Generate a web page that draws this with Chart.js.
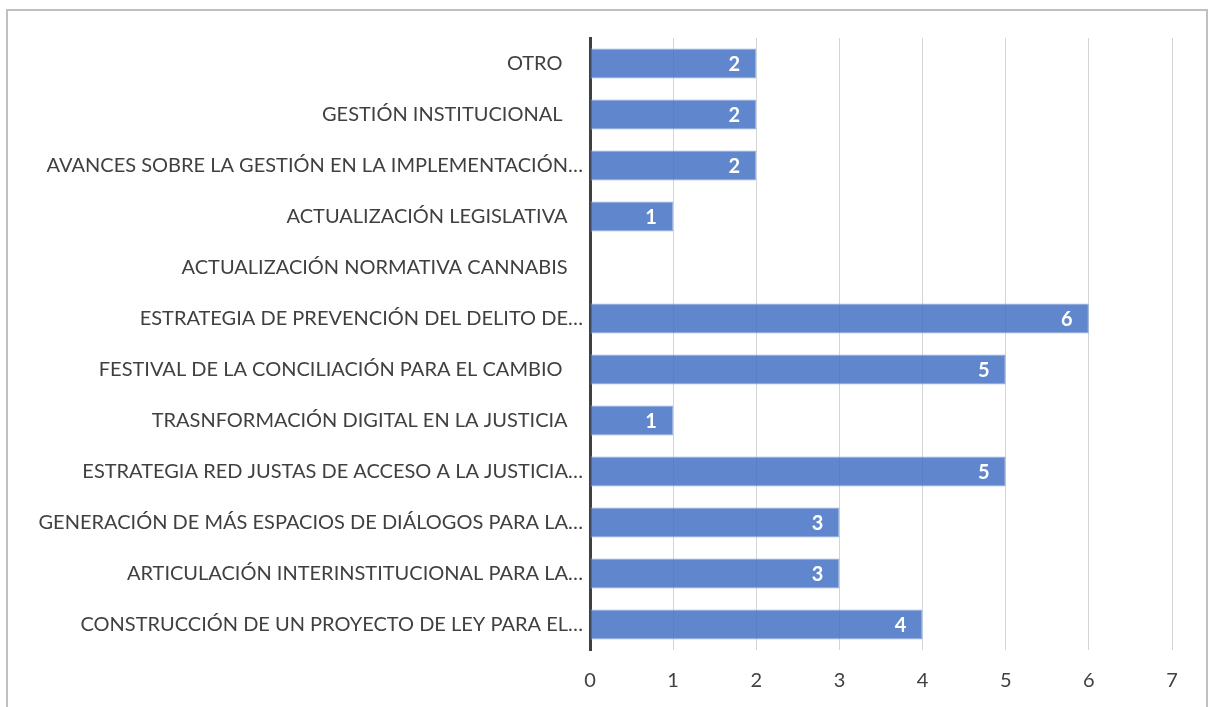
<!DOCTYPE html>
<html>
<head>
<meta charset="utf-8">
<script src="https://cdn.jsdelivr.net/npm/chart.js@4"></script>
<style>
  html, body { margin: 0; padding: 0; background: #fff; overflow: hidden; }
  #frame {
    position: absolute; left: 6px; top: 9px; width: 1198px; height: 720px;
    border: 2px solid #c0c0c0; border-bottom: none;
  }
  #wrap { position: absolute; left: 0; top: 0; width: 1209px; height: 707px; }
</style>
</head>
<body>
<div id="frame"></div>
<div id="wrap"><canvas id="chart" width="1209" height="707"></canvas></div>
<script>
const categories = [
  "OTRO    ",
  "GESTIÓN INSTITUCIONAL    ",
  "AVANCES SOBRE LA GESTIÓN EN LA IMPLEMENTACIÓN…",
  "ACTUALIZACIÓN LEGISLATIVA   ",
  "ACTUALIZACIÓN NORMATIVA CANNABIS   ",
  "ESTRATEGIA DE PREVENCIÓN DEL DELITO DE…",
  "FESTIVAL DE LA CONCILIACIÓN PARA EL CAMBIO    ",
  "TRASNFORMACIÓN DIGITAL EN LA JUSTICIA   ",
  "ESTRATEGIA RED JUSTAS DE ACCESO A LA JUSTICIA…",
  "GENERACIÓN DE MÁS ESPACIOS DE DIÁLOGOS PARA LA…",
  "ARTICULACIÓN INTERINSTITUCIONAL PARA LA…",
  "CONSTRUCCIÓN DE UN PROYECTO DE LEY PARA EL…"
];
const values = [2, 2, 2, 1, null, 6, 5, 1, 5, 3, 3, 4];
const xTicks = [0, 1, 2, 3, 4, 5, 6, 7];

// white numbers near the end of each bar
const barLabels = {
  id: "barLabels",
  afterDatasetsDraw(chart) {
    const ctx = chart.ctx;
    const meta = chart.getDatasetMeta(0);
    ctx.save();
    ctx.fillStyle = "#ffffff";
    ctx.font = "bold 20px Lato";
    ctx.textAlign = "center";
    ctx.textBaseline = "middle";
    meta.data.forEach((bar, i) => {
      if (values[i] == null) return;
      ctx.fillText(String(values[i]), bar.x - 22, bar.y + 1);
    });
    ctx.restore();
  }
};

const data = {
  labels: categories,
  datasets: [
    {
      data: values,
      backgroundColor: "rgba(68, 114, 196, 0.85)",
      borderColor: "rgba(150, 175, 222, 1)",
      borderWidth: 1,
      barPercentage: 0.59,
      categoryPercentage: 1
    }
  ]
};

const config = {
  type: "bar",
  data: data,
  options: {
    indexAxis: "y",
    responsive: false,
    animation: false,
    layout: { padding: { left: 0, right: 37, top: 38, bottom: 0 } },
    plugins: { legend: { display: false }, tooltip: { enabled: false } },
    scales: {
      x: {
        min: 0,
        max: 7,
        afterBuildTicks: (scale) => { scale.ticks = xTicks.map(v => ({ value: v })); },
        afterFit: (scale) => { scale.height = 57; },
        grid: { color: "#d4d4d4", lineWidth: 1, drawTicks: false },
        border: { display: false },
        ticks: { color: "#404040", font: { family: "Lato", size: 20 }, padding: 19 }
      },
      y: {
        afterFit: (scale) => { scale.width = 590; },
        grid: { display: false, drawTicks: false },
        border: { color: "#404040", width: 3 },
        ticks: { color: "#404040", font: { family: "Lato", size: 20 }, padding: 7 }
      }
    }
  },
  plugins: [barLabels]
};

const myChart = new Chart(document.getElementById("chart"), config);
</script>
</body>
</html>
